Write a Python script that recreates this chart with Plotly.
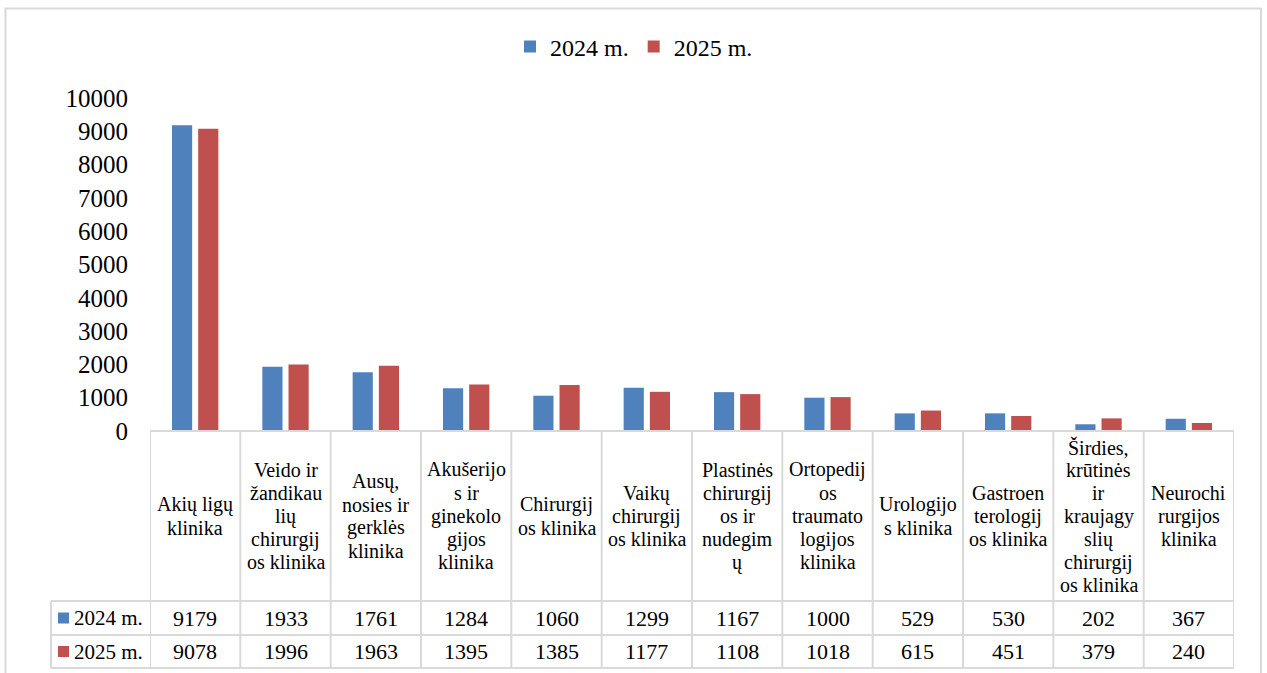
import plotly.graph_objects as go

# ---- data ----
categories = [
    "Akių ligų<br>klinika",
    "Veido ir<br>žandikau<br>lių<br>chirurgij<br>os klinika",
    "Ausų,<br>nosies ir<br>gerklės<br>klinika",
    "Akušerijo<br>s ir<br>ginekolo<br>gijos<br>klinika",
    "Chirurgij<br>os klinika",
    "Vaikų<br>chirurgij<br>os klinika",
    "Plastinės<br>chirurgij<br>os ir<br>nudegim<br>ų",
    "Ortopedij<br>os<br>traumato<br>logijos<br>klinika",
    "Urologijo<br>s klinika",
    "Gastroen<br>terologij<br>os klinika",
    "Širdies,<br>krūtinės<br>ir<br>kraujagy<br>slių<br>chirurgij<br>os klinika",
    "Neurochi<br>rurgijos<br>klinika",
]
series_names = ["2024 m.", "2025 m."]
values_2024 = [9179, 1933, 1761, 1284, 1060, 1299, 1167, 1000, 529, 530, 202, 367]
values_2025 = [9078, 1996, 1963, 1395, 1385, 1177, 1108, 1018, 615, 451, 379, 240]
y_ticks = [0, 1000, 2000, 3000, 4000, 5000, 6000, 7000, 8000, 9000, 10000]

colors = ["#4F81BD", "#C0504D"]
FONT = "Liberation Serif"
GRID = "#d9d9d9"

W, H = 1267, 673
L, R, T, B = 150, 1267 - 1234, 98, 673 - 431
PH = H - T - B  # plot height in px
PW = W - L - R


def py(p):
    """pixel y -> paper y"""
    return (H - B - p) / PH


def px(p):
    """pixel x -> paper x"""
    return (p - L) / PW


keys = [c.replace("<br>", " ") for c in categories]

fig = go.Figure()
for name, vals, col in zip(series_names, [values_2024, values_2025], colors):
    fig.add_trace(go.Bar(x=keys, y=vals, name=name, marker_color=col,
                         marker_line_width=0))

shapes = []
annotations = []

# header row (category labels), one annotation per text line
line_h = 23
head_center = 516
for i, cat in enumerate(categories):
    lines = cat.split("<br>")
    n = len(lines)
    for k, ln in enumerate(lines):
        yc = head_center + (k - (n - 1) / 2) * line_h
        annotations.append(dict(x=keys[i], xref="x", y=py(yc), yref="paper",
                                text=ln, showarrow=False, xanchor="center",
                                yanchor="middle",
                                font=dict(family=FONT, size=20, color="#000")))

# value rows
row_centers = [618, 651.5]
for r, vals in enumerate([values_2024, values_2025]):
    for i, v in enumerate(vals):
        annotations.append(dict(x=keys[i], xref="x", y=py(row_centers[r]), yref="paper",
                                text=str(v), showarrow=False, xanchor="center",
                                yanchor="middle",
                                font=dict(family=FONT, size=22, color="#000")))
    # legend key column
    shapes.append(dict(type="rect", xref="paper", yref="paper",
                       x0=px(58), x1=px(69), y0=py(row_centers[r] - 5.5),
                       y1=py(row_centers[r] + 5.5), fillcolor=colors[r],
                       line=dict(width=0)))
    annotations.append(dict(x=px(72), xref="paper", y=py(row_centers[r]), yref="paper",
                            text=series_names[r], showarrow=False, xanchor="left",
                            yanchor="middle",
                            font=dict(family=FONT, size=21, color="#000")))

# table grid
n = len(categories)
for i in range(n + 1):
    shapes.append(dict(type="line", xref="x", yref="paper", x0=i - 0.5, x1=i - 0.5,
                       y0=0, y1=py(668), line=dict(color=GRID, width=2)))
shapes.append(dict(type="line", xref="paper", yref="paper", x0=px(51), x1=px(51),
                   y0=py(601), y1=py(668), line=dict(color=GRID, width=2)))
shapes.append(dict(type="line", xref="x", yref="paper", x0=-0.5, x1=n - 0.5,
                   y0=0, y1=0, line=dict(color=GRID, width=2)))
for yy in [601, 635, 668]:
    shapes.append(dict(type="line", xref="paper", yref="paper", x0=px(51), x1=px(1234),
                       y0=py(yy), y1=py(yy), line=dict(color=GRID, width=2)))

# outer chart frame
shapes.append(dict(type="rect", xref="paper", yref="paper", x0=px(5.5), x1=px(1261),
                   y0=py(8.5), y1=py(700), line=dict(color=GRID, width=2),
                   fillcolor="rgba(0,0,0,0)", layer="below"))

fig.update_layout(
    width=W, height=H,
    margin=dict(l=L, r=R, t=T, b=B),
    paper_bgcolor="white", plot_bgcolor="white",
    barmode="group", bargap=0.42, bargroupgap=0.23,
    font=dict(family=FONT, color="#000"),
    showlegend=True,
    legend=dict(orientation="h", x=px(634), xanchor="center", y=py(47),
                yanchor="middle", font=dict(family=FONT, size=24),
                itemwidth=30, bgcolor="rgba(0,0,0,0)"),
    xaxis=dict(type="category", range=[-0.5, n - 0.5], showticklabels=False,
               showgrid=False, zeroline=False, showline=False, ticks=""),
    yaxis=dict(range=[0, 10000], tickvals=y_ticks, ticktext=[str(t) for t in y_ticks],
               showgrid=False, zeroline=False, showline=False, ticks="",
               ticklabelstandoff=21,
               tickfont=dict(family=FONT, size=25, color="#000")),
    shapes=shapes, annotations=annotations,
)

fig.write_html("out.html",
               config={"displayModeBar": False},
               post_script="document.body.style.margin='0';"
                           "document.body.style.overflow='hidden';")
